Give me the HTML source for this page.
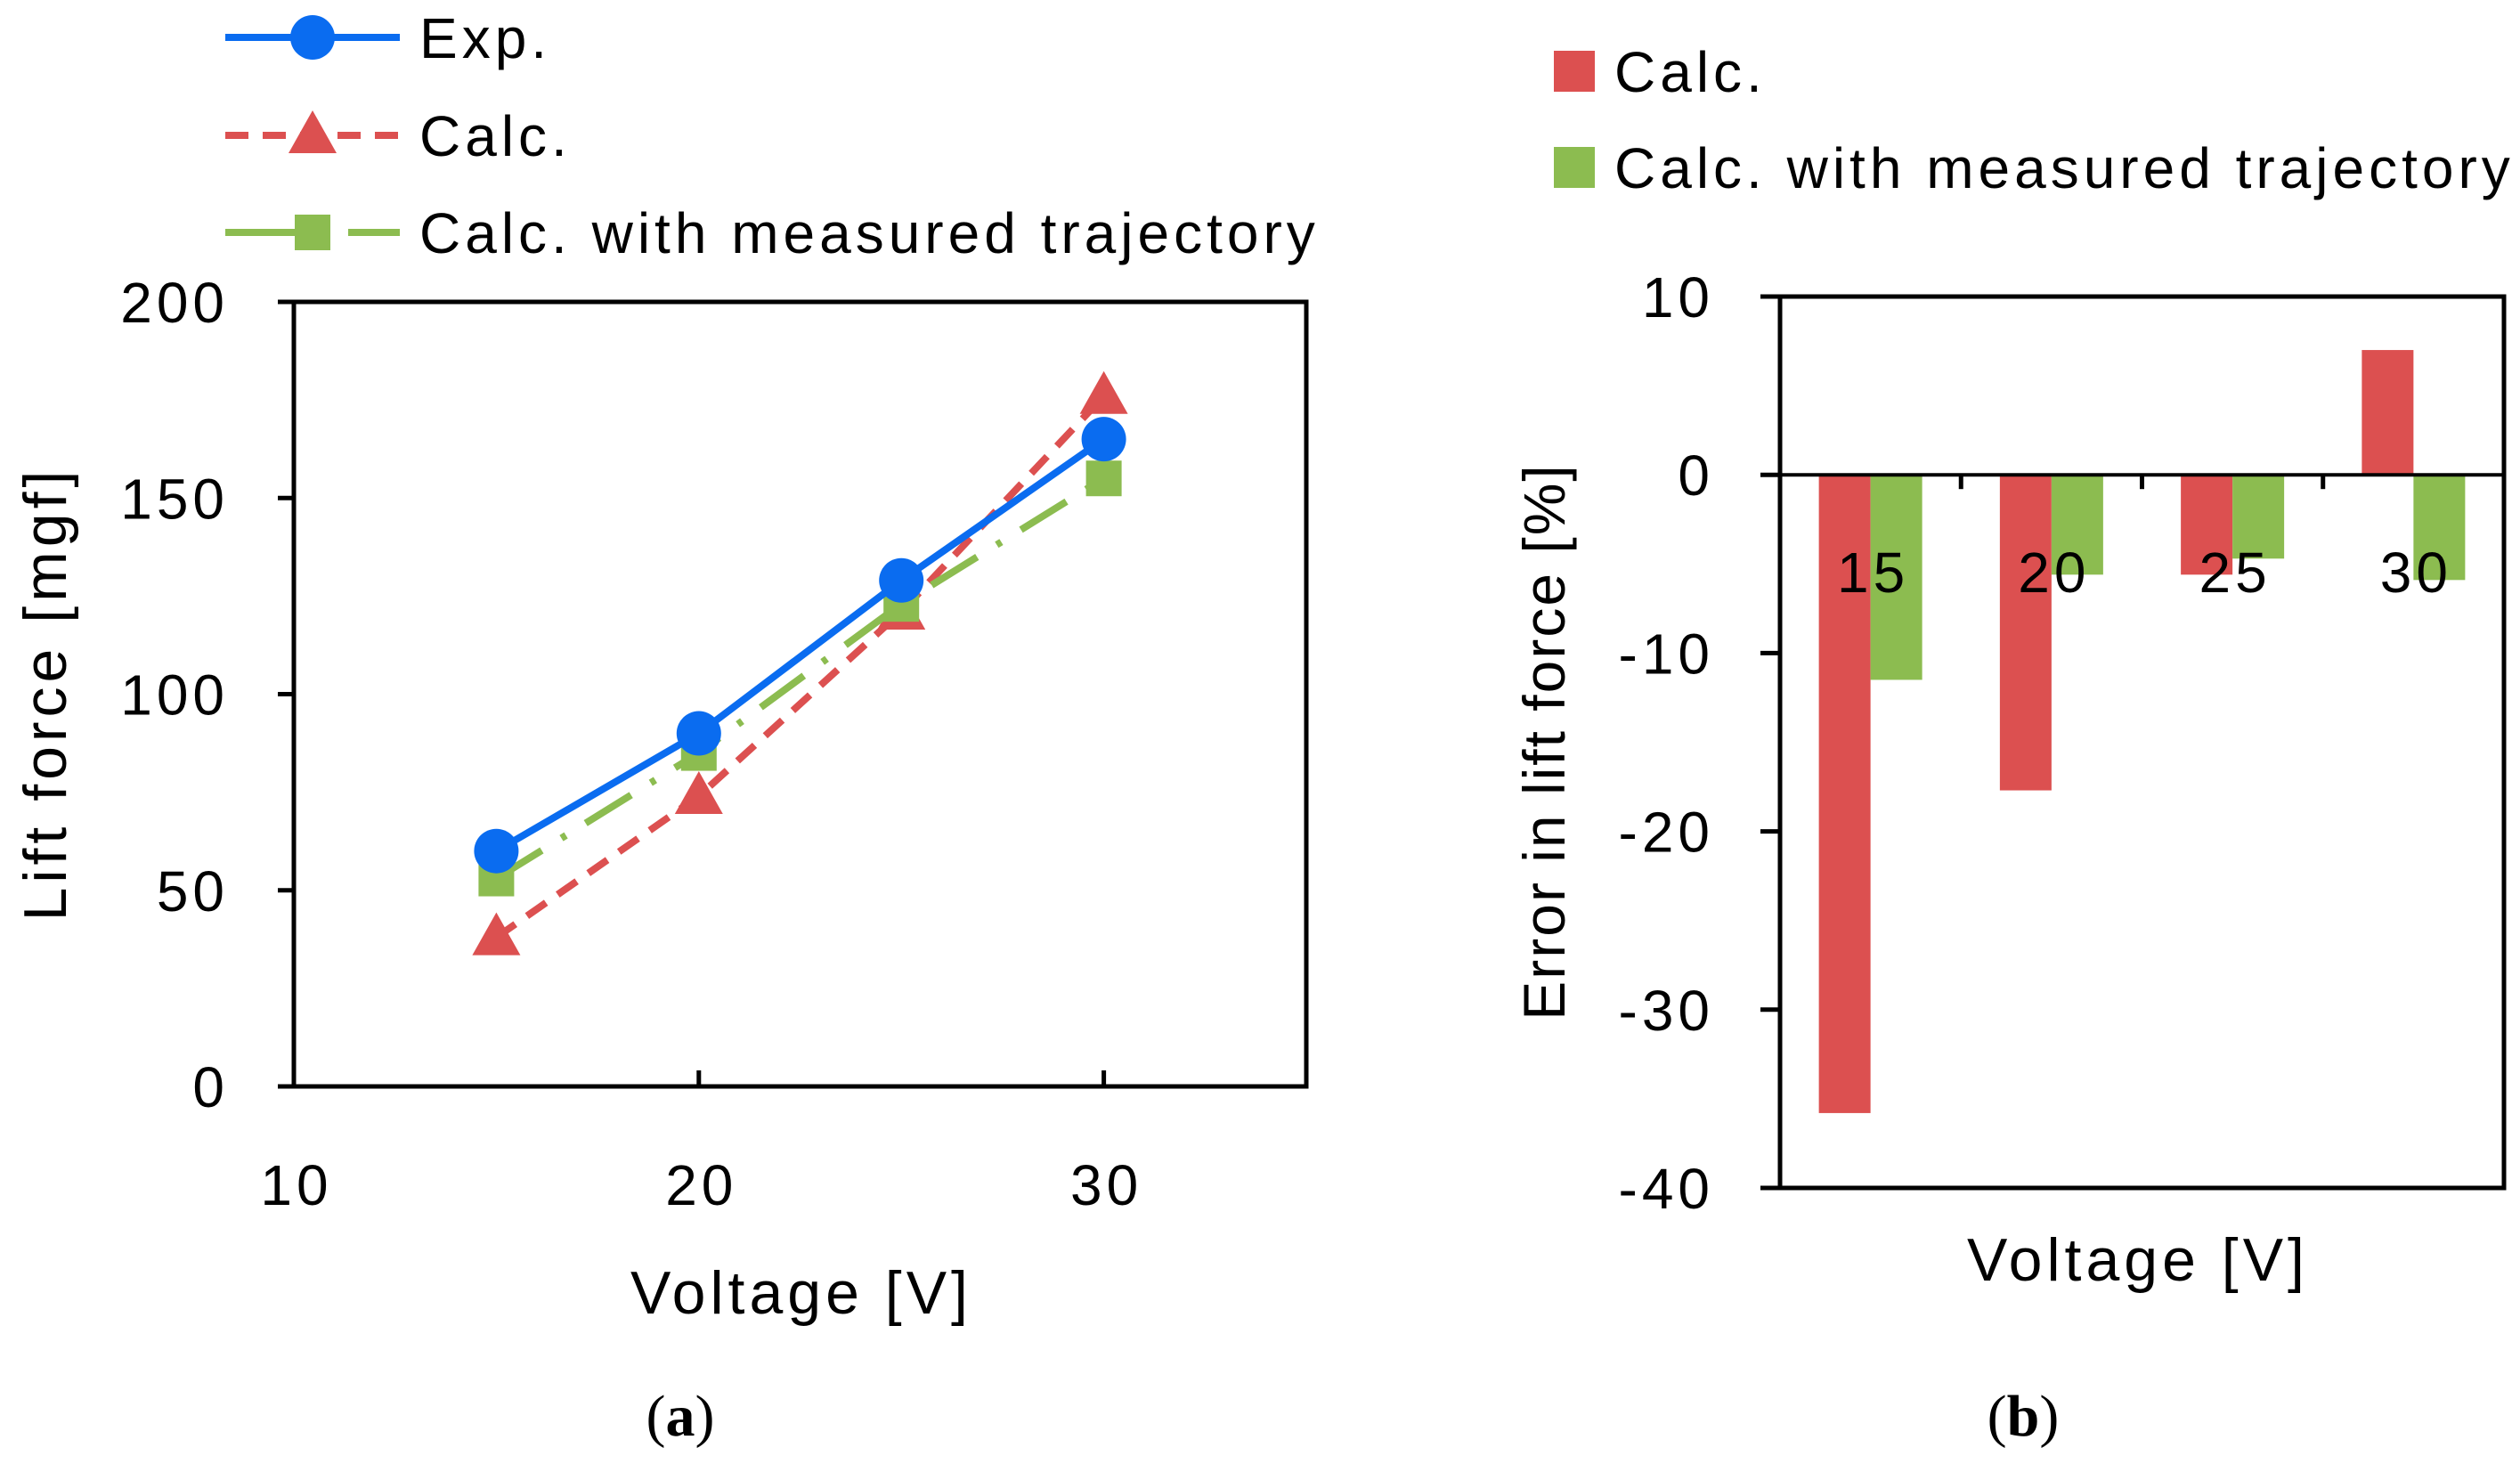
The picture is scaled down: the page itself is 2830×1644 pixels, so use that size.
<!DOCTYPE html>
<html><head><meta charset="utf-8"><style>
html,body{margin:0;padding:0;background:#fff}
svg{display:block}
text{font-family:"Liberation Sans",Arial,sans-serif;fill:#000;letter-spacing:5px}
</style></head><body>
<svg id="chart" width="2830" height="1644" viewBox="0 0 2830 1644" xmlns="http://www.w3.org/2000/svg">
<g id="left"></g>
<g id="right"></g>
</svg>
<script>
// ---- Left chart data ----
const voltages = [15, 20, 25, 30];
const expValues = [60, 90, 129, 165];
const calcValues = [38, 74, 121, 176];
const measValues = [53, 85, 123, 155];
const leftXTicks = [10, 20, 30];
const leftYTicks = [0, 50, 100, 150, 200];
// ---- Right chart data ----
const categories = ["15", "20", "25", "30"];
const calcError = [-35.8, -17.7, -5.6, 7.0];
const measError = [-11.5, -5.6, -4.7, -5.9];
const rightYTicks = [10, 0, -10, -20, -30, -40];

const NS = "http://www.w3.org/2000/svg";
function mk(parent, tag, attrs, txt) {
  const e = document.createElementNS(NS, tag);
  for (const k in attrs) e.setAttribute(k, attrs[k]);
  if (txt !== undefined) e.textContent = txt;
  parent.appendChild(e);
  return e;
}
const BLUE = "#0a6cf0", RED = "#dc5050", GREEN = "#8cbc50";
const FS = 64;

// ---------- LEFT ----------
const L = document.getElementById("left");
const lx0 = 330, lx1 = 1467, ly0 = 1220, ly1 = 339;
const xMin = 10, xMax = 35, yMin = 0, yMax = 200;
const sx = v => lx0 + (v - xMin) / (xMax - xMin) * (lx1 - lx0);
const sy = v => ly0 - (v - yMin) / (yMax - yMin) * (ly0 - ly1);

let e = mk(L, "rect", {x: lx0, y: ly1, width: lx1 - lx0, height: ly0 - ly1, fill: "none", stroke: "#000", "stroke-width": 5});


leftYTicks.forEach(t => {
  const y = sy(t);
  let l = mk(L, "line", {x1: lx0 - 18, x2: lx0, y1: y, y2: y, stroke: "#000", "stroke-width": 5});
  
  
  let tx = mk(L, "text", {x: 257, y: y + 23, "text-anchor": "end", "font-size": FS}, t);
  
  
});
leftXTicks.forEach(t => {
  const x = sx(t);
  if (t > xMin) {
    let l = mk(L, "line", {x1: x, x2: x, y1: ly0, y2: ly0 - 18, stroke: "#000", "stroke-width": 5});
    
    
  }
  let tx = mk(L, "text", {x: x + 3, y: 1353, "text-anchor": "middle", "font-size": FS}, t);
  
  
});
e = mk(L, "text", {x: 900, y: 1475, "text-anchor": "middle", "font-size": 68}, "Voltage [V]");


e = mk(L, "text", {x: 0, y: 0, "text-anchor": "middle", "font-size": 68, transform: "translate(74,779) rotate(-90)"}, "Lift force [mgf]");



function series(vals, color, dash, marker, name) {
  const g = mk(L, "g", {});
  
  
  const pts = vals.map((v, i) => sx(voltages[i]) + "," + sy(v)).join(" ");
  const pl = mk(g, "polyline", {points: pts, fill: "none", stroke: color, "stroke-width": 8, "stroke-dasharray": dash});
  
  
  vals.forEach((v, i) => drawMarker(g, sx(voltages[i]), sy(v), marker, color, name + '-point'));
}
function drawMarker(g, x, y, marker, color, nm) {
  let m;
  if (marker === "circle") m = mk(g, "circle", {cx: x, cy: y, r: 25, fill: color});
  else if (marker === "tri") m = mk(g, "polygon", {points: `${x},${y - 28} ${x - 27},${y + 20} ${x + 27},${y + 20}`, fill: color});
  else m = mk(g, "rect", {x: x - 20, y: y - 20, width: 40, height: 40, fill: color});
  
  
}
series(calcValues, RED, "26 16", "tri", "calc-series");
series(measValues, GREEN, "60 26 6 26", "square", "measured-series");
series(expValues, BLUE, "none", "circle", "exp-series");

// left legend
const legL = [["Exp.", BLUE, "none", "circle", 42], ["Calc.", RED, "26 16", "tri", 152], ["Calc. with measured trajectory", GREEN, "80 26 6 26", "square", 261]];
legL.forEach(([lab, c, d, m, y]) => {
  const g = mk(L, "g", {});
  
  
  mk(g, "line", {x1: 253, x2: 449, y1: y, y2: y, stroke: c, "stroke-width": 8, "stroke-dasharray": d});
  drawMarker(g, 351, y, m, c, 'legend-marker');
  mk(g, "text", {x: 471, y: y + 23, "font-size": FS}, lab);
});
e = mk(L, "text", {x: 764, y: 1612, "text-anchor": "middle", "font-size": 66, style: "font-family:'Liberation Serif',serif;letter-spacing:0"}, "");
e.innerHTML = '(<tspan font-weight="bold">a</tspan>)';



// ---------- RIGHT ----------
const R = document.getElementById("right");
const rx0 = 1999, rx1 = 2812, ry0 = 1334, ry1 = 333;
const eMin = -40, eMax = 10;
const ey = v => ry0 - (v - eMin) / (eMax - eMin) * (ry0 - ry1);
const bandW = (rx1 - rx0) / categories.length;
const barW = 58;

e = mk(R, "polyline", {points: `${rx0},${ry1} ${rx0},${ry0} ${rx1},${ry0} ${rx1},${ry1} ${rx0},${ry1}`, fill: "none", stroke: "#000", "stroke-width": 5});


rightYTicks.forEach(t => {
  const y = ey(t);
  let l = mk(R, "line", {x1: rx0 - 22, x2: rx0, y1: y, y2: y, stroke: "#000", "stroke-width": 5});
  
  
  let tx = mk(R, "text", {x: 1925, y: y + 23, "text-anchor": "end", "font-size": FS}, t);
  
  
});
categories.forEach((c, i) => {
  const cx = rx0 + bandW * (i + 0.5);
  let r1 = mk(R, "rect", {x: cx - barW, y: Math.min(ey(calcError[i]), ey(0)), width: barW, height: Math.abs(ey(calcError[i]) - ey(0)), fill: RED});
  
  
  let r2 = mk(R, "rect", {x: cx, y: Math.min(ey(measError[i]), ey(0)), width: barW, height: Math.abs(ey(measError[i]) - ey(0)), fill: GREEN});
  
  
  if (i > 0) {
    let tk = mk(R, "line", {x1: rx0 + bandW * i, x2: rx0 + bandW * i, y1: ey(0), y2: ey(0) + 16, stroke: "#000", "stroke-width": 5});
    
    
  }
});
e = mk(R, "line", {x1: rx0 - 22, x2: rx1, y1: ey(0), y2: ey(0), stroke: "#000", "stroke-width": 4});


categories.forEach((c, i) => {
  const cx = rx0 + bandW * (i + 0.5);
  let tx = mk(R, "text", {x: cx + 3, y: 665, "text-anchor": "middle", "font-size": FS}, c);
  
  
});
e = mk(R, "text", {x: 2401, y: 1438, "text-anchor": "middle", "font-size": 68}, "Voltage [V]");


e = mk(R, "text", {x: 0, y: 0, "text-anchor": "middle", "font-size": 66, transform: "translate(1757,833) rotate(-90)", style: "letter-spacing:2px"}, "Error in lift force [%]");


[["Calc.", RED, 80], ["Calc. with measured trajectory", GREEN, 188]].forEach(([lab, c, y]) => {
  const g = mk(R, "g", {});
  
  
  mk(g, "rect", {x: 1745, y: y - 23, width: 46, height: 46, fill: c});
  mk(g, "text", {x: 1813, y: y + 23, "font-size": FS}, lab);
});
e = mk(R, "text", {x: 2272, y: 1612, "text-anchor": "middle", "font-size": 66, style: "font-family:'Liberation Serif',serif;letter-spacing:0"}, "");
e.innerHTML = '(<tspan font-weight="bold">b</tspan>)';


</script>
</body></html>
